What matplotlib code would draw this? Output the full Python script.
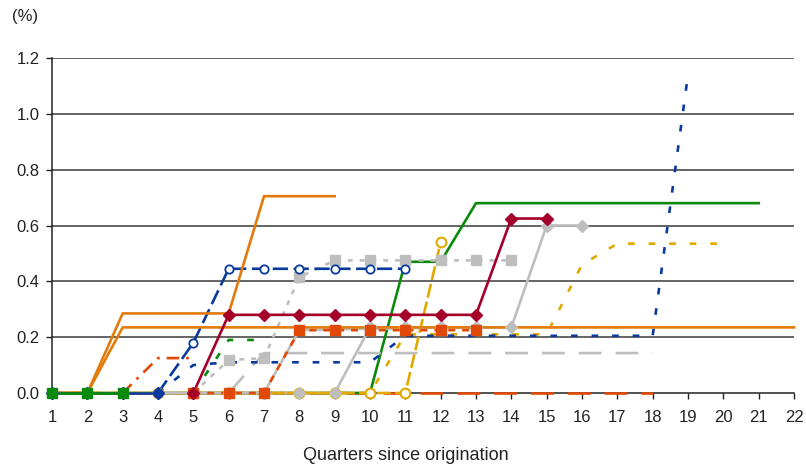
import numpy as np
import matplotlib
matplotlib.use('Agg')
import matplotlib.pyplot as plt

plt.rcParams['font.family'] = ['Liberation Sans', 'DejaVu Sans']
plt.rcParams['lines.scale_dashes'] = False

# cumulative default rates by vintage, % of balance
orange_hi_q = [1, 2, 3, 4, 5, 6, 7, 8, 9]
orange_hi = [0, 0, 0.285, 0.285, 0.285, 0.285, 0.705, 0.705, 0.705]

orange_lo_q = list(range(1, 23))
orange_lo = [0, 0, 0.235, 0.235, 0.235, 0.235, 0.235, 0.235, 0.235, 0.235, 0.235,
             0.235, 0.235, 0.235, 0.235, 0.235, 0.235, 0.235, 0.235, 0.235, 0.235, 0.235]

red_q = [5, 6, 7, 8, 9, 10, 11, 12, 13, 14, 15]
red = [0, 0.28, 0.28, 0.28, 0.28, 0.28, 0.28, 0.28, 0.28, 0.625, 0.625]

blue_circ_q = [4, 5, 6, 7, 8, 9, 10, 11]
blue_circ = [0, 0.18, 0.445, 0.445, 0.445, 0.445, 0.445, 0.445]

blue_dot_q = list(range(4, 20))
blue_dot = [0, 0.10, 0.11, 0.11, 0.11, 0.11, 0.11, 0.205, 0.205, 0.205, 0.205,
            0.205, 0.205, 0.205, 0.205, 1.14]

blue_diam_q = [1, 2, 3, 4]
blue_diam = [0, 0, 0, 0]

gray_sq_q = list(range(5, 15))
gray_sq = [0, 0.118, 0.125, 0.415, 0.475, 0.475, 0.475, 0.475, 0.475, 0.475]

gray_dash_q = list(range(6, 19))
gray_dash = [0, 0.143, 0.143, 0.143, 0.143, 0.143, 0.143, 0.143, 0.143, 0.143,
             0.143, 0.143, 0.143]

gray_diam_q = list(range(1, 17))
gray_diam = [0, 0, 0, 0, 0, 0, 0, 0, 0, 0.235, 0.235, 0.235, 0.235, 0.235, 0.6, 0.6]

gray_line_q = list(range(4, 14))
gray_line = [0, 0, 0, 0, 0.225, 0.228, 0.23, 0.232, 0.235, 0.235]

green_q = list(range(1, 22))
green = [0, 0, 0, 0, 0, 0, 0, 0, 0, 0, 0.47, 0.47, 0.68, 0.68, 0.68, 0.68, 0.68,
         0.68, 0.68, 0.68, 0.68]

green_sq_q = [1, 2, 3]
green_sq = [0, 0, 0]

green_dash_q = [5, 6, 7]
green_dash = [0, 0.19, 0.19]

gold_circ_q = list(range(1, 13))
gold_circ = [0, 0, 0, 0, 0, 0, 0, 0, 0, 0, 0, 0.54]

gold_dot_q = list(range(1, 21))
gold_dot = [0, 0, 0, 0, 0, 0, 0, 0, 0, 0, 0.21, 0.21, 0.21, 0.21, 0.21, 0.46,
            0.535, 0.535, 0.535, 0.535]

verm_sq_q = [5, 6, 7, 8, 9, 10, 11, 12, 13]
verm_sq = [0, 0, 0, 0.225, 0.225, 0.225, 0.225, 0.225, 0.225]

verm_dd_q = [3, 4, 5]
verm_dd = [0, 0.125, 0.125]

verm_long_q = list(range(1, 19))
verm_long = [0] * 18

c_orange = '#E27A0C'
c_red = '#A5002A'
c_blue = '#0A3A9E'
c_gray = '#BEBEBE'
c_green = '#0A8A0A'
c_gold = '#E2A800'
c_verm = '#E04A06'

fig = plt.figure(figsize=(8.06, 4.72), dpi=100)
ax = fig.add_axes([52 / 806, 79 / 472, 742 / 806, 335 / 472])

lw = 1.9
long_dash = (16.5, 10)
short_dash = (4.8, 10)


def line(q, v, color, **kw):
    ax.plot(q, v, color=color, lw=lw, zorder=2, clip_on=False, **kw)


def marks(q, v, **kw):
    ax.plot(q, v, ls='none', zorder=3, clip_on=False, **kw)


# lines first (bottom to top), markers afterwards
line(verm_long_q, verm_long, c_verm, dashes=long_dash)
line(green_q, green, c_green)
line(gray_diam_q, gray_diam, c_gray)
line(gray_dash_q, gray_dash, c_gray, dashes=long_dash)
line(gray_sq_q, gray_sq, c_gray, dashes=(3.5, 5))
line(gold_dot_q, gold_dot, c_gold, dashes=short_dash)
line(gold_circ_q, gold_circ, c_gold, dashes=(10, 3))
line(gray_line_q, gray_line, c_gray)
line(verm_sq_q, verm_sq, c_verm, dashes=(5, 5))
line(verm_dd_q, verm_dd, c_verm, dashes=(9, 5, 2, 5))
line(green_dash_q, green_dash, c_green, dashes=short_dash)
line(blue_dot_q, blue_dot, c_blue, dashes=short_dash)
line(blue_circ_q, blue_circ, c_blue, dashes=(11, 4))
line(orange_lo_q, orange_lo, c_orange)
line(orange_hi_q, orange_hi, c_orange)
line(red_q, red, c_red)
line(blue_diam_q, blue_diam, c_blue)
line(green_sq_q, green_sq, c_green)

marks(gold_circ_q, gold_circ, marker='o', ms=7, mfc='white', mec=c_gold, mew=1.5)
marks(gray_diam_q, gray_diam, marker='D', ms=6.5, color=c_gray)
marks(gray_sq_q, gray_sq, marker='s', ms=6.5, color=c_gray)
marks(verm_sq_q, verm_sq, marker='s', ms=6.5, color=c_verm)
marks(red_q, red, marker='D', ms=6.5, color=c_red)
marks(blue_circ_q, blue_circ, marker='o', ms=6, mfc='white', mec=c_blue, mew=1.3)
marks(blue_diam_q, blue_diam, marker='D', ms=6.5, color=c_blue)
marks(green_sq_q, green_sq, marker='s', ms=7, color=c_green)

ax.set_xlim(1, 22)
ax.set_ylim(0, 1.2)
ax.set_xticks(range(1, 23))
ax.set_yticks(np.arange(0, 1.21, 0.2))
ax.set_yticklabels(['%.1f' % v for v in np.arange(0, 1.21, 0.2)])
for v in np.arange(0.2, 1.21, 0.2):
    ax.axhline(v, color='#3a3a3a', lw=1.1, zorder=1)

ax.spines['top'].set_visible(False)
ax.spines['right'].set_visible(False)
for side in ['left', 'bottom']:
    ax.spines[side].set_color('#222222')
    ax.spines[side].set_linewidth(1.1)
    ax.spines[side].set_zorder(1)
ax.tick_params(axis='both', direction='out', length=4, width=1, color='#222222',
               labelsize=12, labelcolor='#222222')
ax.tick_params(axis='x', pad=8)
ax.tick_params(axis='y', pad=5)

fig.text(406 / 806, 1 - 455 / 472, 'Quarters since origination', ha='center', va='center',
         fontsize=13, color='#222222')
fig.text(12 / 806, 1 - 17 / 472, '(%)', ha='left', va='center', fontsize=12, color='#222222')

fig.savefig('out.png', dpi=100)
